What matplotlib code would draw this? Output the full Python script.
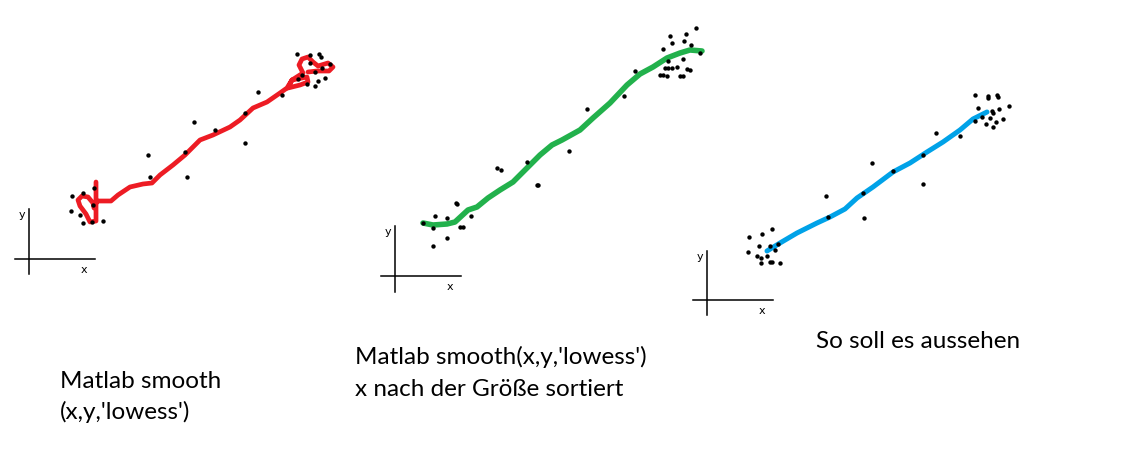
import matplotlib.pyplot as plt
import numpy as np

# panel 1: raw smooth, dots + red curve (pixel coords of the sketch)
p1_dots_x = [72, 71, 83, 94, 80, 83, 92, 103, 93, 148, 150, 185, 187, 194, 215, 245, 245,
             258, 282, 297, 310, 319, 321, 330, 325, 318, 315, 307, 302, 315, 310, 322, 298]
p1_dots_y = [196, 211, 193, 188, 215, 223, 222, 221, 205, 155, 177, 152, 177, 122, 130, 113, 143,
             92, 95, 54, 55, 54, 57, 64, 78, 81, 86, 84, 75, 72, 63, 68, 79]
p1_line_x = [96, 96, 90, 86, 80, 78, 82, 88, 93, 94, 97, 111, 118, 130, 143, 152, 160, 173, 185,
             200, 213, 230, 240, 253, 267, 280, 287, 292, 307, 308, 300, 288, 292, 303, 299, 302,
             308, 313, 318, 328, 333, 329, 317, 308]
p1_line_y = [182, 221, 222, 214, 206, 200, 196, 197, 203, 208, 201, 201, 195, 187, 184, 183, 175,
             165, 155, 140, 135, 127, 120, 108, 102, 93, 88, 80, 77, 82, 85, 88, 80, 73, 65, 59,
             57, 62, 66, 63, 67, 71, 71, 72]

# panel 2: x sorted, dots + green curve
p2_dots_x = [423, 435, 433, 447, 447, 433, 456, 457, 460, 463, 471, 497, 501, 527, 537, 538, 569,
             587, 624, 635, 663, 670, 672, 686, 696, 684, 691, 700, 683, 677, 668, 665, 668, 672,
             660, 663, 667, 680, 683, 687, 690]
p2_dots_y = [223, 216, 228, 218, 238, 246, 203, 204, 227, 227, 216, 168, 170, 162, 185, 185, 151,
             109, 96, 71, 49, 36, 43, 34, 28, 41, 45, 53, 59, 67, 61, 68, 68, 68,
             75, 75, 76, 76, 76, 69, 70]
p2_line_x = [423, 433, 447, 455, 468, 477, 488, 500, 513, 527, 540, 552, 562, 580, 593, 610, 627,
             640, 653, 667, 680, 690, 702]
p2_line_y = [223, 225, 224, 222, 210, 207, 198, 190, 182, 168, 155, 145, 140, 130, 118, 103, 85,
             74, 67, 58, 53, 50, 51]

# panel 3: wanted result, dots + blue curve
p3_dots_x = [749, 762, 772, 748, 759, 757, 761, 761, 770, 772, 780, 767, 770, 775, 778, 826, 828,
             863, 864, 872, 893, 923, 923, 936, 960, 975, 988, 988, 997, 998, 978, 975, 982, 992,
             993, 999, 1009, 990, 996, 1003, 986, 993]
p3_dots_y = [237, 234, 229, 252, 246, 256, 258, 263, 262, 262, 263, 256, 246, 250, 244, 196, 217,
             193, 218, 163, 171, 184, 155, 133, 136, 95, 96, 98, 95, 97, 108, 121, 117, 111,
             113, 109, 106, 118, 122, 119, 124, 127]
p3_line_x = [767, 780, 797, 817, 830, 845, 857, 873, 893, 910, 927, 943, 960, 973, 987]
p3_line_y = [251, 243, 233, 223, 217, 209, 198, 187, 172, 163, 152, 142, 130, 119, 112]

# small x/y axis crosses: (x of y-axis, y top, y bottom, y of x-axis, x left, x right)
crosses = [(29, 209, 274, 259, 15, 95),
           (395, 226, 292, 276, 381, 461),
           (707, 251, 315, 300, 693, 773)]

# captions: x left, baseline y, text
captions = [(60, 388, "Matlab smooth"),
            (60, 419, "(x,y,'lowess')"),
            (355, 364, "Matlab smooth(x,y,'lowess')"),
            (355, 396, "x nach der Größe sortiert"),
            (816, 348, "So soll es aussehen")]

fig = plt.figure(figsize=(11.36, 4.67), dpi=100)
ax = fig.add_axes([0, 0, 1, 1])
ax.set_xlim(0, 1136)
ax.set_ylim(467, 0)
ax.axis('off')

ax.plot(p1_line_x, p1_line_y, color='#ed1c24', lw=3.4, solid_joinstyle='round', solid_capstyle='round')
ax.plot(p2_line_x, p2_line_y, color='#22b14c', lw=4.0, solid_joinstyle='round', solid_capstyle='round')
ax.plot(p3_line_x, p3_line_y, color='#00a2e8', lw=3.6, solid_joinstyle='round', solid_capstyle='round')

for dx, dy in [(p1_dots_x, p1_dots_y), (p2_dots_x, p2_dots_y), (p3_dots_x, p3_dots_y)]:
    ax.scatter(dx, dy, s=10, color='black', marker='o', linewidths=0, zorder=3)

for yx, yt, yb, xy, xl, xr in crosses:
    ax.plot([yx, yx], [yt, yb], color='black', lw=1.1)
    ax.plot([xl, xr], [xy, xy], color='black', lw=1.1)
    ax.text(yx - 7, yt + 6, 'y', fontsize=8, ha='center', va='center', family='DejaVu Sans')
    ax.text(xr - 11, xy + 11, 'x', fontsize=8, ha='center', va='center', family='DejaVu Sans')

for tx, ty, s in captions:
    ax.text(tx, ty, s, fontsize=17.5, ha='left', va='baseline', family='Lato')

fig.savefig('out.png', dpi=100)
